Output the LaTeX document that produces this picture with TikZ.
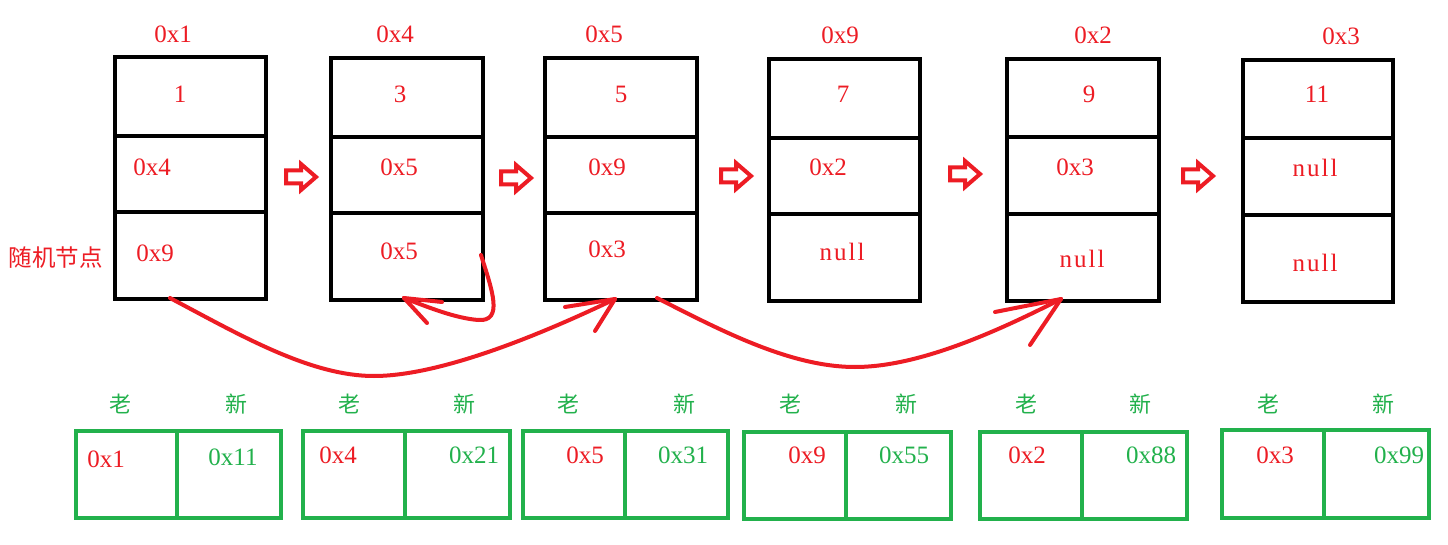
\documentclass[tikz,border=0pt]{standalone}
\usepackage{fontspec}
\setmainfont{Liberation Serif}
\newfontfamily\cjk{Noto Sans CJK SC}
\newfontfamily\spacedfont[LetterSpace=8]{Liberation Serif}
\usetikzlibrary{fit}
\definecolor{pred}{RGB}{237,28,36}
\definecolor{pgreen}{RGB}{34,177,76}
\tikzset{
  box/.style={draw=black, line width=4pt, inner sep=0pt, outer sep=0pt},
  gbox/.style={draw=pgreen, line width=4pt, inner sep=0pt, outer sep=0pt},
  divline/.style={draw=black, line width=4pt},
  gdivline/.style={draw=pgreen, line width=4pt},
  rt/.style={text=pred, inner sep=0pt, font=\fontsize{25}{26}\selectfont},
  gt/.style={text=pgreen, inner sep=0pt, font=\fontsize{25}{26}\selectfont},
  rnull/.style={text=pred, inner sep=0pt, font=\fontsize{25}{26}\spacedfont},
  cjkg/.style={text=pgreen, inner sep=0pt, font=\fontsize{22}{24}\cjk},
  cjkr/.style={text=pred, inner sep=0pt, font=\fontsize{23.5}{24}\cjk},
  rline/.style={draw=pred, line width=4pt, line cap=round, line join=round},
  barrow/.pic={\draw[pred, line width=4pt, line join=miter] (-15,-6.5) -- (0,-6.5) -- (0,-13) -- (15,0) -- (0,13) -- (0,6.5) -- (-15,6.5) -- cycle;}
}
\newcommand\topbox[7]{%
  \node[box, fit={(#2,#3) (#4,#5)}] (#1) {};
  \draw[divline] (#2,#6) -- (#4,#6);
  \draw[divline] (#2,#7) -- (#4,#7);
}
\newcommand\grbox[6]{%
  \node[gbox, fit={(#2,#3) (#5,#6)}] (#1) {};
  \draw[gdivline] (#4,#3) -- (#4,#6);
}
\begin{document}
\begin{tikzpicture}[x=1pt,y=-1pt]
\useasboundingbox (0,0) rectangle (1448,545);
\fill[white] (0,0) rectangle (1448,545);

% top boxes
\topbox{n1}{115}{57}{266}{299}{136}{212}
\topbox{n2}{331}{58}{483}{300}{137}{213}
\topbox{n3}{545}{58}{697}{300}{137}{213}
\topbox{n4}{769}{59}{920}{301}{138}{214}
\topbox{n5}{1007}{59}{1159}{301}{137}{214}
\topbox{n6}{1243}{60}{1393}{302}{138}{215}

% addresses above
\node[rt] (a1) at (173,34) {0x1};
\node[rt] (a2) at (395,34) {0x4};
\node[rt] (a3) at (604,34) {0x5};
\node[rt] (a4) at (840,35) {0x9};
\node[rt] (a5) at (1093,35) {0x2};
\node[rt] (a6) at (1341,36) {0x3};

% contents
\node[rt] (v1) at (180,94) {1};
\node[rt] (p1) at (152,167) {0x4};
\node[rt] (r1) at (155,253) {0x9};
\node[rt] (v2) at (400,94) {3};
\node[rt] (p2) at (399,167) {0x5};
\node[rt] (r2) at (399,251) {0x5};
\node[rt] (v3) at (621,94) {5};
\node[rt] (p3) at (607,167) {0x9};
\node[rt] (r3) at (607,249) {0x3};
\node[rt] (v4) at (843,94) {7};
\node[rt] (p4) at (828,167) {0x2};
\node[rnull] (r4) at (842,252) {null};
\node[rt] (v5) at (1089,94) {9};
\node[rt] (p5) at (1075,167) {0x3};
\node[rnull] (r5) at (1082,259) {null};
\node[rt] (v6) at (1317,94) {11};
\node[rnull] (p6) at (1315,168) {null};
\node[rnull] (r6) at (1315,263) {null};

\node[cjkr] (rand) at (56,258) {随机节点};

% block arrows
\pic at (301,177) {barrow};
\pic at (516,178) {barrow};
\pic at (736,176) {barrow};
\pic at (965,174) {barrow};
\pic at (1198,176) {barrow};

% curved random pointers
\coordinate (c1s) at (170,298);
\coordinate (c1e) at (615,299);
\draw[rline] (c1s) .. controls (240,335) and (310,376) .. (374,376) .. controls (440,376) and (540,335) .. (c1e);
\draw[rline] (c1e) -- ++(-50,8);
\draw[rline] (c1e) -- ++(-20,32);

\coordinate (c2s) at (481,255);
\coordinate (c2e) at (404,298);
\draw[rline] (c2s) .. controls (492,290) and (504,322) .. (478,320) .. controls (455,318) and (430,308) .. (c2e);
\draw[rline] (c2e) -- ++(38,4);
\draw[rline] (c2e) -- ++(23,25);

\coordinate (c3s) at (657,298);
\coordinate (c3e) at (1061,299);
\draw[rline] (c3s) .. controls (720,330) and (790,367) .. (855,367) .. controls (920,367) and (1000,330) .. (c3e);
\draw[rline] (c3e) -- ++(-66,13);
\draw[rline] (c3e) -- ++(-31,46);

% old/new labels
\foreach \xo/\xn [count=\i] in {120/236, 349/464, 568/684, 790/906, 1026/1140, 1268/1383}{
  \node[cjkg] (old\i) at (\xo,404) {老};
  \node[cjkg] (new\i) at (\xn,404) {新};
}

% green boxes
\grbox{g1}{76}{431}{177}{281}{518}
\grbox{g2}{303}{431}{405}{510}{518}
\grbox{g3}{523}{431}{625}{728}{518}
\grbox{g4}{744}{432}{846}{951}{519}
\grbox{g5}{980}{432}{1082}{1187}{519}
\grbox{g6}{1222}{430}{1324}{1429}{518}

\node[rt] (o1) at (106,459) {0x1};
\node[gt] (m1) at (233,457) {0x11};
\node[rt] (o2) at (338,455) {0x4};
\node[gt] (m2) at (474,455) {0x21};
\node[rt] (o3) at (585,455) {0x5};
\node[gt] (m3) at (683,455) {0x31};
\node[rt] (o4) at (807,455) {0x9};
\node[gt] (m4) at (904,455) {0x55};
\node[rt] (o5) at (1027,455) {0x2};
\node[gt] (m5) at (1151,455) {0x88};
\node[rt] (o6) at (1275,455) {0x3};
\node[gt] (m6) at (1399,455) {0x99};
\end{tikzpicture}
\end{document}
